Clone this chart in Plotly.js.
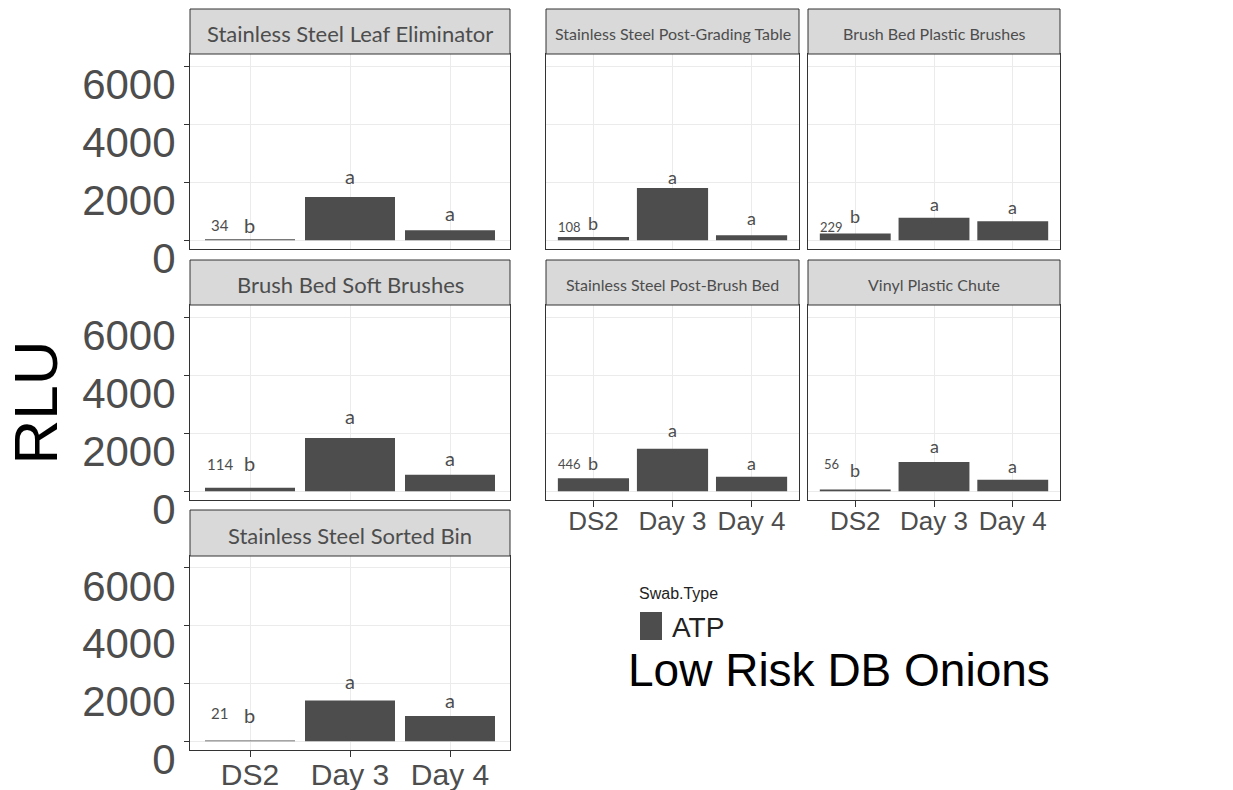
<!DOCTYPE html>
<html>
<head>
<meta charset="utf-8">
<script src="https://cdn.plot.ly/plotly-3.0.1.min.js"></script>
<style>
  html, body { margin: 0; padding: 0; background: #ffffff; }
  #chart { width: 1233px; height: 790px; }
</style>
</head>
<body>
<div id="chart"></div>
<script>
// Sampling days on the x axis of every facet
const days = ['DS2', 'Day 3', 'Day 4'];

// Facet (surface) names, in facet_wrap order
const surfaces = [
  'Stainless Steel Leaf Eliminator',
  'Stainless Steel Post-Grading Table',
  'Brush Bed Plastic Brushes',
  'Brush Bed Soft Brushes',
  'Stainless Steel Post-Brush Bed',
  'Vinyl Plastic Chute',
  'Stainless Steel Sorted Bin'
];

// Mean ATP readings (RLU) per surface: DS2, Day 3, Day 4
const leafEliminatorRLU   = [34, 1490, 345];
const postGradingTableRLU = [108, 1800, 172];
const plasticBrushesRLU   = [229, 770, 655];
const softBrushesRLU      = [114, 1830, 562];
const postBrushBedRLU     = [446, 1462, 493];
const vinylChuteRLU       = [56, 1007, 390];
const sortedBinRLU        = [21, 1413, 871];

// Significance groups (same for every surface)
const groupLetters = ['b', 'a', 'a'];

// Heights (RLU) at which the group letters sit
const leafEliminatorLetterY   = [517, 2207, 931];
const postGradingTableLetterY = [586, 2172, 759];
const plasticBrushesLetterY   = [828, 1241, 1138];
const softBrushesLetterY      = [983, 2592, 1154];
const postBrushBedLetterY     = [983, 2113, 983];
const vinylChuteLetterY       = [743, 1565, 880];
const sortedBinLetterY        = [905, 2092, 1414];

// Height (RLU) of the DS2 value label in each facet
const ds2LabelY = [517, 448, 448, 949, 949, 949, 973];

const yTicks = [0, 2000, 4000, 6000];

const panelValues = [leafEliminatorRLU, postGradingTableRLU, plasticBrushesRLU,
  softBrushesRLU, postBrushBedRLU, vinylChuteRLU, sortedBinRLU];
const panelLetterY = [leafEliminatorLetterY, postGradingTableLetterY, plasticBrushesLetterY,
  softBrushesLetterY, postBrushBedLetterY, vinylChuteLetterY, sortedBinLetterY];

// ---- page geometry (pixels) ----
const W = 1233, H = 790;
const colPx = [[190, 510], [546, 799], [808, 1060]];
const rowPx = [[9, 54, 249], [260, 305, 500], [510, 556, 750]]; // strip top, panel top, panel bottom
const panelCell = [[0, 0], [0, 1], [0, 2], [1, 0], [1, 1], [1, 2], [2, 0]];
const showDays = [false, false, false, false, true, true, true];

const SANS = 'Liberation Sans, Arial, sans-serif';
const HUMAN = 'Lato, Open Sans, sans-serif';
const BAR = '#4d4d4d';
const FRAME = '#333333';
const GRID = '#ebebeb';
const TEXT = '#4d4d4d';

const px2x = p => p / W;
const px2y = p => 1 - p / H;

const data = [];
const shapes = [];
const annotations = [];
const layout = {
  width: W, height: H,
  margin: { l: 0, r: 0, t: 0, b: 0 },
  paper_bgcolor: '#ffffff',
  plot_bgcolor: '#ffffff',
  bargap: 0.1,
  showlegend: false,
  font: { family: SANS, color: TEXT },
  title: {
    text: 'Low Risk DB Onions',
    x: px2x(628), xanchor: 'left', xref: 'paper',
    y: px2y(670), yanchor: 'middle', yref: 'paper',
    font: { family: SANS, size: 46, color: '#000000' }
  },
  shapes: shapes,
  annotations: annotations
};

panelCell.forEach(([r, c], k) => {
  const n = k === 0 ? '' : String(k + 1);
  const wide = c === 0;
  const xa = 'x' + n, ya = 'y' + n;

  data.push({
    type: 'bar',
    x: days,
    y: panelValues[k],
    xaxis: xa, yaxis: ya,
    name: 'ATP',
    marker: { color: BAR, line: { width: 0 } },
    hoverinfo: 'skip',
    showlegend: false
  });

  layout['xaxis' + n] = {
    domain: [px2x(colPx[c][0]), px2x(colPx[c][1])],
    anchor: ya,
    type: 'category',
    range: [-0.6, 2.6],
    showgrid: true, gridcolor: GRID, gridwidth: 1,
    showline: true, mirror: true, linecolor: FRAME, linewidth: 1,
    zeroline: false,
    ticks: showDays[k] ? 'outside' : '',
    ticklen: 6, tickcolor: FRAME,
    showticklabels: showDays[k],
    ticklabelstandoff: -8,
    tickfont: { family: SANS, size: wide ? 30 : 26, color: TEXT },
    fixedrange: true
  };

  layout['yaxis' + n] = {
    domain: [px2y(rowPx[r][2]), px2y(rowPx[r][1])],
    anchor: xa,
    range: [-305, 6415],
    tickvals: yTicks,
    ticktext: yTicks.map(String),
    showgrid: true, gridcolor: GRID, gridwidth: 1,
    showline: true, mirror: true, linecolor: FRAME, linewidth: 1,
    zeroline: false,
    ticks: wide ? 'outside' : '',
    ticklen: 5, tickcolor: FRAME,
    showticklabels: wide,
    ticklabelshift: 18,
    tickfont: { family: SANS, size: 42, color: TEXT },
    fixedrange: true
  };

  // facet strip
  shapes.push({
    type: 'rect', xref: 'paper', yref: 'paper', layer: 'above',
    x0: px2x(colPx[c][0]), x1: px2x(colPx[c][1]),
    y0: px2y(rowPx[r][1]), y1: px2y(rowPx[r][0]),
    fillcolor: '#d9d9d9', line: { color: FRAME, width: 1 }
  });
  annotations.push({
    xref: 'paper', yref: 'paper',
    x: px2x((colPx[c][0] + colPx[c][1]) / 2),
    y: px2y((rowPx[r][0] + rowPx[r][1]) / 2 + 2),
    xanchor: 'center', yanchor: 'middle',
    text: surfaces[k], showarrow: false,
    font: { family: HUMAN, size: wide ? 22 : 16, color: TEXT }
  });

  // group letters
  groupLetters.forEach((g, i) => {
    annotations.push({
      xref: xa, yref: ya, x: i, y: panelLetterY[k][i],
      text: g, showarrow: false, xanchor: 'center', yanchor: 'middle',
      font: { family: HUMAN, size: wide ? 20 : 18, color: TEXT }
    });
  });

  // DS2 value label
  annotations.push({
    xref: xa, yref: ya, x: -0.3, y: ds2LabelY[k],
    text: String(panelValues[k][0]), showarrow: false,
    xanchor: 'center', yanchor: 'middle',
    font: { family: HUMAN, size: wide ? 15 : 13, color: TEXT }
  });
});

// y axis title on the middle row
layout.yaxis4.title = {
  text: 'RLU',
  standoff: 4,
  font: { family: SANS, size: 62, color: '#000000' }
};

// legend: Swab.Type / ATP key
annotations.push({
  xref: 'paper', yref: 'paper', x: px2x(637), y: px2y(593),
  xanchor: 'left', yanchor: 'middle', showarrow: false,
  text: 'Swab.Type', font: { family: SANS, size: 16, color: '#222222' }
});
shapes.push({
  type: 'rect', xref: 'paper', yref: 'paper',
  x0: px2x(640), x1: px2x(662), y0: px2y(640), y1: px2y(612),
  fillcolor: BAR, line: { width: 0 }
});
annotations.push({
  xref: 'paper', yref: 'paper', x: px2x(670), y: px2y(627),
  xanchor: 'left', yanchor: 'middle', showarrow: false,
  text: 'ATP', font: { family: SANS, size: 28, color: '#222222' }
});

Plotly.newPlot('chart', data, layout, { displayModeBar: false, staticPlot: true });
</script>
</body>
</html>
